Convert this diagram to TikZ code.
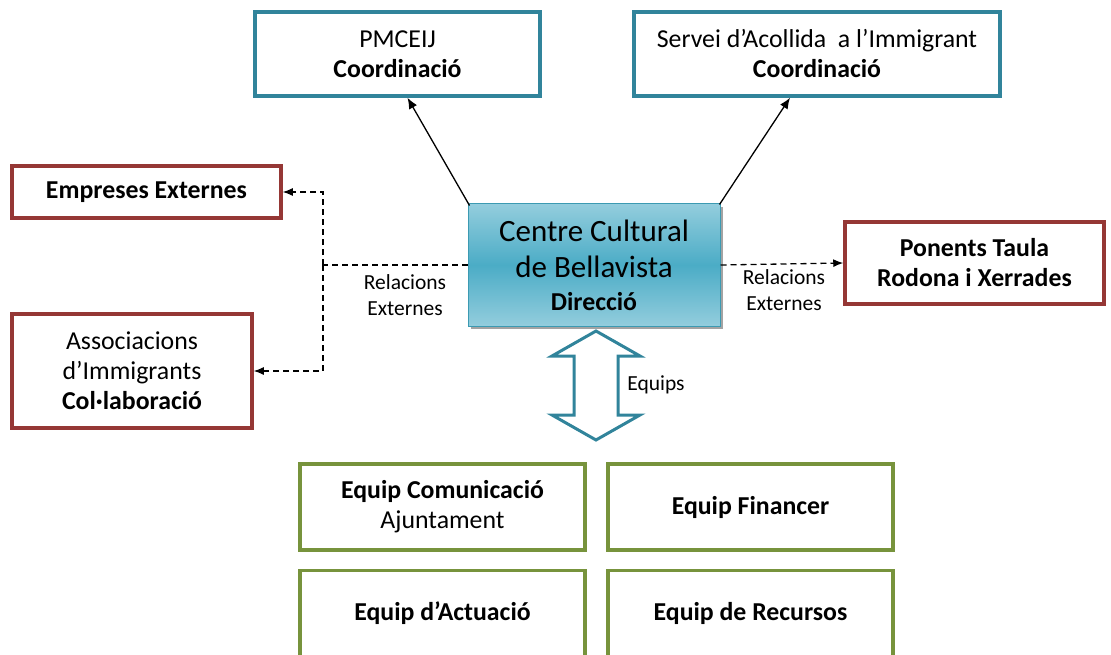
\documentclass[tikz,border=0pt]{standalone}
\usepackage{fontspec}
\setmainfont{Carlito}
\usetikzlibrary{arrows.meta,shadows,calc}
\definecolor{teal1}{HTML}{31849B}
\definecolor{red1}{HTML}{953735}
\definecolor{green1}{HTML}{77933C}
\definecolor{ccmid}{HTML}{4BACC6}
\definecolor{cclight}{HTML}{93CDDD}
\definecolor{ccline}{HTML}{3C9AB2}
\begin{document}
\begin{tikzpicture}[x=1pt,y=-1pt,
  base/.style={draw,line width=3.5pt,fill=white,inner sep=0pt,align=center,
    font=\fontsize{25.8}{30}\selectfont},
  tbox/.style={base,draw=teal1},
  rbox/.style={base,draw=red1},
  gbox/.style={base,draw=green1,minimum width=285pt,minimum height=86pt},
  lbl/.style={inner sep=0pt,align=center,font=\fontsize{21.5}{26}\selectfont},
  solidarrow/.style={line width=1.3pt,-{Latex[length=11pt,width=9pt]}},
  dasharrow/.style={line width=1.3pt,dash pattern=on 6pt off 4pt,-{Latex[length=10pt,width=8pt]}},
  dashline/.style={line width=1.3pt,dash pattern=on 6pt off 4pt}]
\path[use as bounding box] (0,0) rectangle (1111,655);
\clip (0,0) rectangle (1111,655);

\node[tbox,minimum width=285pt,minimum height=84pt] (pm) at (397.5,54) {PMCEIJ\\\textbf{Coordinació}};
\node[tbox,minimum width=366pt,minimum height=84pt] (sv) at (817,54) {Servei d’Acollida\ \ a l’Immigrant\\\textbf{Coordinació}};
\node[rbox,minimum width=269pt,minimum height=52pt] (emp) at (146.5,192) {\textbf{Empreses Externes}};
\node[rbox,minimum width=240pt,minimum height=114pt] (as) at (132,371) {Associacions\\d’Immigrants\\\textbf{Col·laboració}};
\node[rbox,minimum width=259pt,minimum height=82pt] (pon) at (974.5,263) {\textbf{Ponents Taula}\\\textbf{Rodona i Xerrades}};

\node[draw=ccline,line width=1pt,minimum width=252pt,minimum height=122pt,inner sep=0pt,align=center,
  top color=cclight,bottom color=cclight,middle color=ccmid,
  drop shadow={shadow xshift=3pt,shadow yshift=-3pt,fill=black!45,opacity=0.8},
  font=\fontsize{31}{36}\selectfont] (cc) at (594,265)
  {Centre Cultural\\de Bellavista\\[-3pt]{\fontsize{25.8}{30}\selectfont\textbf{Direcció}}};

\node[gbox] (ec) at (442.5,507) {\textbf{Equip Comunicació}\\Ajuntament};
\node[gbox] (ef) at (750.5,507) {\textbf{Equip Financer}};
\node[gbox] (ea) at (442.5,613.5) {\textbf{Equip d’Actuació}};
\node[gbox] (er) at (750.5,613.5) {\textbf{Equip de Recursos}};

% solid arrows to coordination boxes
\draw[solidarrow] ($(cc.north west)+(2,2)$) -- ($(pm.south)+(10,0)$);
\draw[solidarrow] ($(cc.north east)+(-1,1)$) -- ($(sv.south)+(-27,0)$);

% dashed external relations
\coordinate (j) at (323,265);
\draw[dashline] (cc.west) -- (j);
\draw[dasharrow] (j) |- (emp.east);
\draw[dasharrow] (j) |- (as.east);
\draw[dasharrow] (cc.east) -- (pon.west);

\node[lbl] (l1) at (405,295) {Relacions\\Externes};
\node[lbl] (l2) at (784,290) {Relacions\\Externes};

% double arrow Equips
\coordinate (da) at (596,331);
\draw[teal1,line width=3pt,fill=white,line join=miter]
  (da) -- ++(44,25) -- ++(-22,0) -- ++(0,59) -- ++(22,0) -- ++(-44,25)
  -- ++(-44,-25) -- ++(22,0) -- ++(0,-59) -- ++(-22,0) -- cycle;
\node[lbl] (eq) at (656,385) {Equips};
\end{tikzpicture}
\end{document}
